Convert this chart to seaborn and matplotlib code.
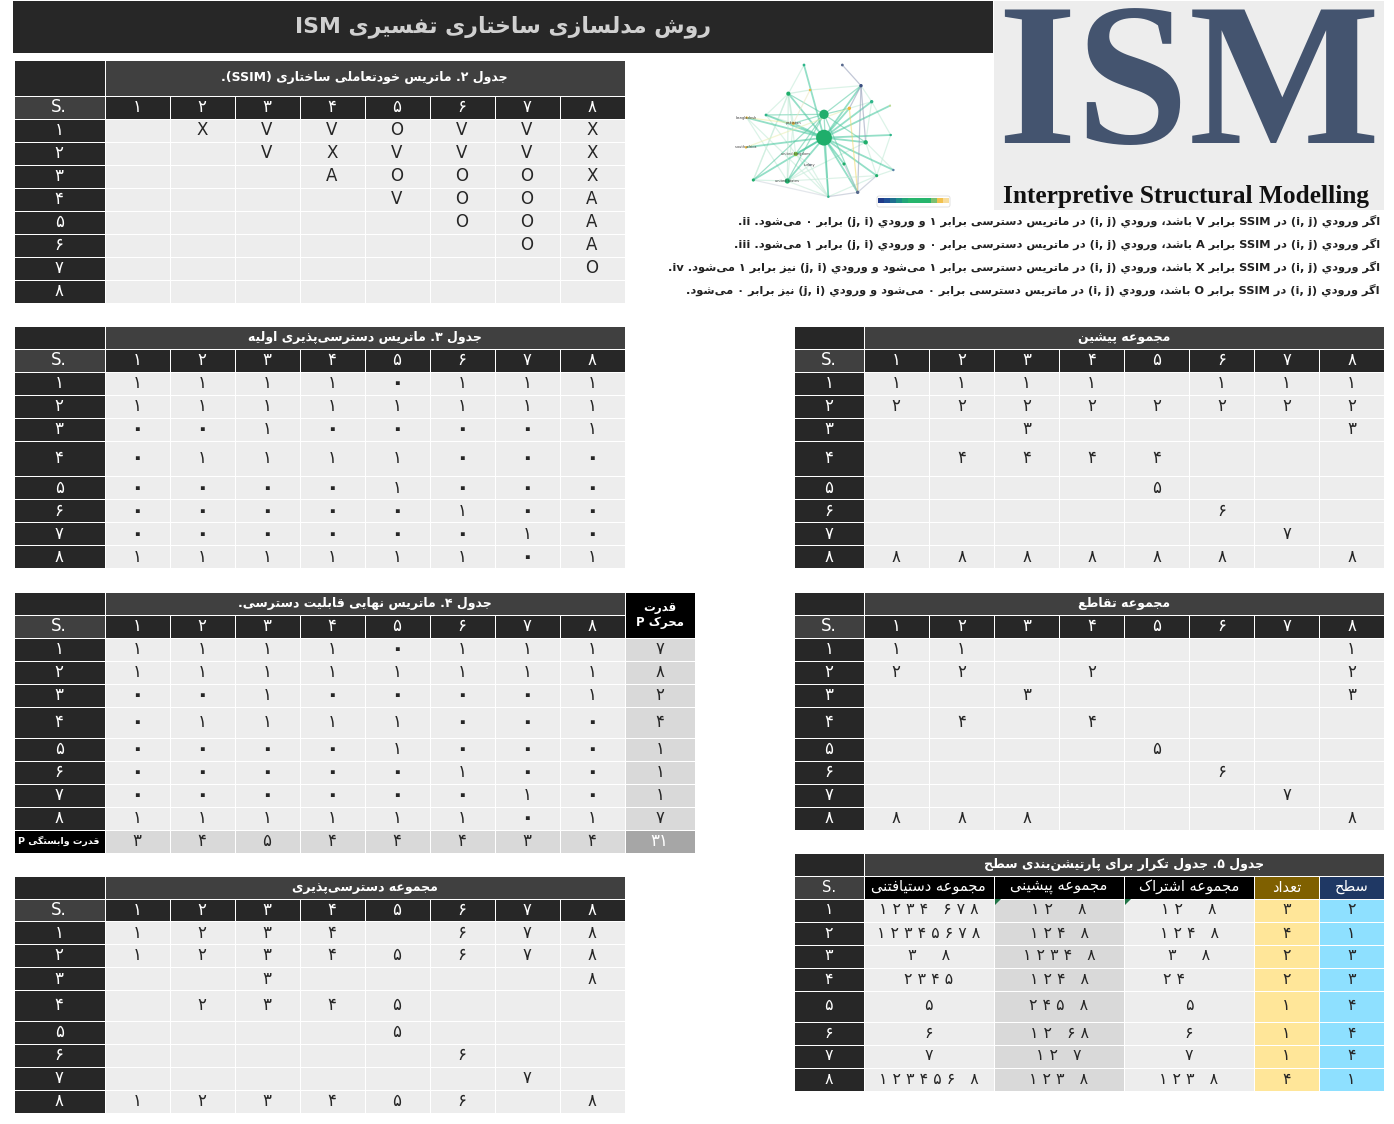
import re
import numpy as np
import matplotlib
matplotlib.use("Agg")
import matplotlib.pyplot as plt
from matplotlib.colors import ListedColormap
from matplotlib.patches import FancyBboxPatch
import seaborn as sns

# ============================================================
# 1. Chart data
# ============================================================
FA_DIGITS = str.maketrans("0123456789.", "۰۱۲۳۴۵۶۷۸۹ ")

column_labels = ["۱", "۲", "۳", "۴", "۵", "۶", "۷", "۸"]
row_labels = ["۱", "۲", "۳", "۴", "۵", "۶", "۷", "۸"]

ssim_rows = [".XVVOVVX", "..VXVVVX", "...AOOOX", "....VOOA",
             ".....OOA", "......OA", ".......O", "........"]
initial_rows = ["11110111", "11111111", "00100001", "01111000",
                "00001000", "00000100", "00000010", "11111101"]
final_rows = ["11110111", "11111111", "00100001", "01111000",
              "00001000", "00000100", "00000010", "11111101"]
reach_rows = ["1234.678", "12345678", "..3....8", ".2345...",
              "....5...", ".....6..", "......7.", "123456.8"]
antecedent_rows = ["1111.111", "22222222", "..3....3", ".4444...",
                   "....5...", ".....6..", "......7.", "888888.8"]
intersection_rows = ["11.....1", "22.2...2", "..3....3", ".4.4....",
                     "....5...", ".....6..", "......7.", "888....8"]

driving_power = ["۷", "۸", "۲", "۴", "۱", "۱", "۱", "۷"]
dependence_power = ["۳", "۴", "۵", "۴", "۴", "۴", "۳", "۴"]
power_total = "۳۱"

level_reach = ["۱ ۲ ۳ ۴   ۶ ۷ ۸", "۱ ۲ ۳ ۴ ۵ ۶ ۷ ۸", "۳     ۸", "۲ ۳ ۴ ۵",
               "۵", "۶", "۷", "۱ ۲ ۳ ۴ ۵ ۶   ۸"]
level_antecedent = ["۱ ۲     ۸", "۱ ۲ ۴   ۸", "۱ ۲ ۳ ۴   ۸", "۱ ۲ ۴   ۸",
                    "۲ ۴ ۵   ۸", "۱ ۲   ۶ ۸", "۱ ۲   ۷", "۱ ۲ ۳   ۸"]
level_shared = ["۱ ۲     ۸", "۱ ۲ ۴   ۸", "۳     ۸", "۲ ۴      ",
                "۵", "۶", "۷", "۱ ۲ ۳   ۸"]
level_count = ["۳", "۴", "۲", "۲", "۱", "۱", "۱", "۴"]
level_value = ["۲", "۱", "۳", "۳", "۴", "۴", "۴", "۱"]

rule_lines = [
    "اگر ورودي (i, j) در SSIM برابر V باشد، ورودي (i, j) در ماتریس دسترسی برابر ۱ و ورودي (j, i) برابر ۰ می‌شود. ii.",
    "اگر ورودي (i, j) در SSIM برابر A باشد، ورودي (i, j) در ماتریس دسترسی برابر ۰ و ورودي (j, i) برابر ۱ می‌شود. iii.",
    "اگر ورودي (i, j) در SSIM برابر X باشد، ورودي (i, j) در ماتریس دسترسی برابر ۱ می‌شود و ورودي (j, i) نیز برابر ۱ می‌شود. iv.",
    "اگر ورودي (i, j) در SSIM برابر O باشد، ورودي (i, j) در ماتریس دسترسی برابر ۰ می‌شود و ورودي (j, i) نیز برابر ۰ می‌شود.",
]

# small network picture next to the logo
node_x = [282, 282, 175, 222, 337, 393, 425, 480, 358, 240, 108, 50, 190,
          482, 407, 48, 197, 240, 342, 490, 440, 172, 70, 295, 383]
node_y = [248, 178, 116, 30, 30, 92, 140, 152, 160, 105, 180, 188, 205,
          240, 262, 277, 297, 330, 327, 345, 362, 378, 375, 425, 412]
node_size = [130, 45, 9, 4, 4, 6, 6, 2, 6, 3, 4, 3, 5,
             3, 10, 3, 10, 3, 5, 3, 5, 14, 5, 3, 6]
node_color = ["#1fae6b", "#1fae6b", "#1fae6b", "#2fb58a", "#56688c", "#3b4f80", "#2fb58a",
              "#c9d98a", "#f0b63c", "#f0b63c", "#2fb58a", "#f0b63c", "#f0b63c", "#2fb58a",
              "#1fae6b", "#f0b63c", "#7fc241", "#a0b0c0", "#1fae6b", "#5d7fa8", "#1fae6b",
              "#1fae6b", "#1fae6b", "#2fb58a", "#56688c"]
edge_from = [0] * 20 + [1] * 11 + [2, 2, 2, 5, 5, 5, 5, 24, 24, 24, 21, 21, 11, 15, 22, 8, 9]
edge_to = [2, 3, 5, 6, 7, 8, 10, 11, 12, 13, 14, 15, 16, 18, 19, 20, 21, 22, 23, 24,
           2, 5, 8, 10, 12, 14, 16, 21, 22, 23, 24,
           9, 12, 21, 4, 8, 14, 24, 18, 20, 23, 20, 23, 12, 8, 23, 24, 12]
edge_color = ["#3cc59a"] * 20 + ["#54c8a0"] * 11 + ["#b6e5cf"] * 3 + ["#8f99b5"] * 4 + \
             ["#aeb6c8"] * 3 + ["#c4e9d6"] * 2 + ["#f1ec9c", "#e9eeb0", "#cdd3dc", "#f0d868", "#e8e6c0"]
faint_from = [2, 2, 2, 10, 10, 11, 11, 22, 22, 16, 16, 21, 21, 6, 6, 13, 14, 14, 20, 20, 17, 3, 9, 8, 5, 12]
faint_to = [10, 16, 22, 12, 16, 21, 23, 2, 21, 23, 17, 17, 14, 14, 13, 20, 20, 19, 19, 23, 23, 2, 5, 6, 6, 21]
node_names = ["bangladesh", "pakistan", "south africa", "united kingdom", "united states", "turkey"]
name_index = [11, 12, 15, 16, 21, 17]
year_swatches = ["#1f3a8a", "#1f4f96", "#1f6f8f", "#1f8f86", "#22a678", "#27b56c",
                 "#27b56c", "#27b56c", "#27b56c", "#7cc070", "#f2c14e", "#f7dc9a"]

# ============================================================
# 2. Persian text helpers (matplotlib has no shaping or bidi)
# ============================================================
FORMS = {
    "ا": (0xFE8D, 0xFE8E), "آ": (0xFE81, 0xFE82), "د": (0xFEA9, 0xFEAA), "ذ": (0xFEAB, 0xFEAC),
    "ر": (0xFEAD, 0xFEAE), "ز": (0xFEAF, 0xFEB0), "ژ": (0xFB8A, 0xFB8B), "و": (0xFEED, 0xFEEE),
    "ب": (0xFE8F, 0xFE90, 0xFE91, 0xFE92), "پ": (0xFB56, 0xFB57, 0xFB58, 0xFB59),
    "ت": (0xFE95, 0xFE96, 0xFE97, 0xFE98), "ج": (0xFE9D, 0xFE9E, 0xFE9F, 0xFEA0),
    "چ": (0xFB7A, 0xFB7B, 0xFB7C, 0xFB7D), "ح": (0xFEA1, 0xFEA2, 0xFEA3, 0xFEA4),
    "خ": (0xFEA5, 0xFEA6, 0xFEA7, 0xFEA8), "س": (0xFEB1, 0xFEB2, 0xFEB3, 0xFEB4),
    "ش": (0xFEB5, 0xFEB6, 0xFEB7, 0xFEB8), "ط": (0xFEC1, 0xFEC2, 0xFEC3, 0xFEC4),
    "ع": (0xFEC9, 0xFECA, 0xFECB, 0xFECC), "ف": (0xFED1, 0xFED2, 0xFED3, 0xFED4),
    "ق": (0xFED5, 0xFED6, 0xFED7, 0xFED8), "ک": (0xFB8E, 0xFB8F, 0xFB90, 0xFB91),
    "گ": (0xFB92, 0xFB93, 0xFB94, 0xFB95), "ل": (0xFEDD, 0xFEDE, 0xFEDF, 0xFEE0),
    "م": (0xFEE1, 0xFEE2, 0xFEE3, 0xFEE4), "ن": (0xFEE5, 0xFEE6, 0xFEE7, 0xFEE8),
    "ه": (0xFEE9, 0xFEEA, 0xFEEB, 0xFEEC), "ی": (0xFBFC, 0xFBFD, 0xFBFE, 0xFBFF),
    "ي": (0xFEF1, 0xFEF2, 0xFEF3, 0xFEF4),
}


def shape(text):
    out = []
    n = len(text)
    for i, ch in enumerate(text):
        if ch not in FORMS:
            if ch != "\u200c":
                out.append(ch)
            continue
        prev = text[i - 1] if i > 0 else ""
        nxt = text[i + 1] if i < n - 1 else ""
        joins_prev = prev in FORMS and len(FORMS[prev]) == 4
        joins_next = nxt in FORMS and len(FORMS[ch]) == 4
        forms = FORMS[ch]
        if joins_prev and joins_next:
            out.append(chr(forms[3]))
        elif joins_next:
            out.append(chr(forms[2]))
        elif joins_prev:
            out.append(chr(forms[1]))
        else:
            out.append(chr(forms[0]))
    return "".join(out)


def fa(text):
    # latin runs stay left to right, everything else gets flipped
    parts = re.split(r"(\(?[A-Za-z]+(?:,\s*[A-Za-z]+)*\)?)", shape(text))
    flip = str.maketrans("()", ")(")
    visual = [p if i % 2 else p[::-1].translate(flip) for i, p in enumerate(parts)]
    return "".join(visual[::-1])


def cells(rows):
    return [[c.translate(FA_DIGITS).strip() for c in r] for r in rows]


# ============================================================
# 3. Layout and colours
# ============================================================
W, H = 1394, 1124
plt.rcParams["font.family"] = ["DejaVu Sans"]

DARK, MID, LIGHT, GREY, TOTAL, BLACK, GOLD_H, GOLD, BLUE_H, BLUE = range(10)
PALETTE = ["#272727", "#404040", "#ededed", "#d9d9d9", "#a6a6a6",
           "#000000", "#7f6000", "#ffe699", "#1f3864", "#8ee0ff"]
cell_cmap = ListedColormap(PALETTE)

LEFT_X = [14, 104.5, 169.5, 234.5, 299.5, 364.5, 429.5, 494.5, 559.5, 624.5]
RIGHT_X = [794, 863.5, 929, 994, 1059, 1124, 1189, 1254, 1319, 1384]
LEVEL_X = [794, 863.5, 994, 1124, 1254, 1319, 1384]

SSIM_Y = [60, 95.5, 118.5, 141.5, 164.5, 187.5, 210.5, 233.5, 256.5, 279.5, 302.5]
INITIAL_Y = [326, 348.5, 371.5, 394.5, 417.5, 440.5, 476, 499, 522, 545, 568]
FINAL_Y = [591.5, 614.5, 637.5, 660.5, 683.5, 706.5, 737.5, 760.5, 783.5, 806.5, 829.5, 852.5]
REACH_Y = [876, 898.5, 921, 944, 967, 990, 1020.5, 1043.5, 1066.5, 1089.5, 1113]
LEVEL_Y = [853, 875.5, 898.5, 921.5, 944.5, 967.5, 990.5, 1021.5, 1044.5, 1067.5, 1090.5]

fig = plt.figure(figsize=(W / 100, H / 100), dpi=100, facecolor="white")


def draw_grid(x_edges, y_edges, codes, labels, size=12, weight="normal", lw=0.55):
    """One block of cells: a heatmap whose row/column widths come from the axis scales."""
    x0, x1, y0, y1 = x_edges[0], x_edges[-1], y_edges[0], y_edges[-1]
    ax = fig.add_axes([x0 / W, 1 - y1 / H, (x1 - x0) / W, (y1 - y0) / H])
    sns.heatmap(np.array(codes), annot=np.array(labels, dtype=object), fmt="", cmap=cell_cmap,
                vmin=-0.5, vmax=len(PALETTE) - 0.5, cbar=False, linewidths=lw, linecolor="white",
                xticklabels=False, yticklabels=False, ax=ax,
                annot_kws={"size": size, "weight": weight})
    nx, ny = len(x_edges) - 1, len(y_edges) - 1
    ix, iy = np.arange(nx + 1), np.arange(ny + 1)
    ax.set_xscale("function", functions=(lambda v: np.interp(v, ix, x_edges),
                                         lambda v: np.interp(v, x_edges, ix)))
    ax.set_yscale("function", functions=(lambda v: np.interp(v, iy, y_edges),
                                         lambda v: np.interp(v, y_edges, iy)))
    ax.set_xlim(0, nx)
    ax.set_ylim(ny, 0)
    ax.set_xticks([])
    ax.set_yticks([])
    ax.minorticks_off()
    # the persian zero is a tiny dot in DejaVu, make it readable
    for t in ax.texts:
        if t.get_text() == "۰":
            t.set_weight("bold")
            t.set_size(size + 4)
    return ax


def matrix_table(x_edges, y_edges, title, rows, size=12):
    # title row
    draw_grid([x_edges[0], x_edges[1], x_edges[-1]], y_edges[:2], [[DARK, MID]],
              [["", fa(title)]], size=9, weight="bold")
    # column header row
    draw_grid(x_edges, y_edges[1:3], [[MID] + [DARK] * 8], [["S."] + column_labels], size=size)
    # body
    body = cells(rows)
    codes = [[DARK] + [LIGHT] * 8 for _ in rows]
    labels = [[row_labels[i]] + body[i] for i in range(len(rows))]
    draw_grid(x_edges, y_edges[2:], codes, labels, size=size)


# ============================================================
# 4. Banner, logo and tables
# ============================================================
banner = draw_grid([13, 993], [1, 53], [[DARK]], [[fa("روش مدلسازی ساختاری تفسیری ISM")]],
                   size=15.8, weight="bold", lw=0)
banner.texts[0].set_color("#d0d0d0")
draw_grid([994, 1384], [1, 210], [[LIGHT]], [[""]], lw=0)

matrix_table(LEFT_X, SSIM_Y, "جدول ۲. ماتریس خودتعاملی ساختاری (SSIM).", ssim_rows)
matrix_table(LEFT_X, INITIAL_Y, "جدول ۳. ماتریس دسترسی‌پذیری اولیه", initial_rows)
matrix_table(LEFT_X, REACH_Y, "مجموعه دسترسی‌پذیری", reach_rows)
matrix_table(RIGHT_X, INITIAL_Y, "مجموعه پیشین", antecedent_rows)
matrix_table(RIGHT_X, FINAL_Y[:-1], "مجموعه تقاطع", intersection_rows)

# table 4 has the extra driving / dependence power cells
draw_grid([LEFT_X[0], LEFT_X[1], LEFT_X[-1]], FINAL_Y[:2], [[DARK, MID]],
          [["", fa("جدول ۴. ماتریس نهایی قابلیت دسترسی.")]], size=9, weight="bold")
draw_grid(LEFT_X, FINAL_Y[1:3], [[MID] + [DARK] * 8], [["S."] + column_labels])
draw_grid([624.5, 695], [FINAL_Y[0], FINAL_Y[2]], [[BLACK]], [[fa("قدرت") + "\n" + fa("محرک P")]],
          size=8.5, weight="bold")
final_body = cells(final_rows)
final_codes = [[DARK] + [LIGHT] * 8 + [GREY] for _ in final_rows] + [[BLACK] + [GREY] * 8 + [TOTAL]]
final_labels = [[row_labels[i]] + final_body[i] + [driving_power[i]] for i in range(8)]
final_labels.append([""] + dependence_power + [power_total])
ax4 = draw_grid(LEFT_X + [695], FINAL_Y[2:], final_codes, final_labels)
ax4.text(0.5, 8.5, fa("قدرت وابستگی P"), color="white", size=6.8, weight="bold", ha="center", va="center")

# table 5, partition levels
draw_grid([LEVEL_X[0], LEVEL_X[1], LEVEL_X[-1]], LEVEL_Y[:2], [[DARK, MID]],
          [["", fa("جدول ۵. جدول تکرار برای پارتیشن‌بندی سطح")]], size=9, weight="bold")
draw_grid(LEVEL_X, LEVEL_Y[1:3], [[MID, BLACK, BLACK, BLACK, GOLD_H, BLUE_H]],
          [["S.", fa("مجموعه دستیافتنی"), fa("مجموعه پیشینی"), fa("مجموعه اشتراک"), fa("تعداد"), fa("سطح")]],
          size=10.5)
level_codes = [[DARK, LIGHT, GREY, LIGHT, GOLD, BLUE] for _ in row_labels]
level_labels = [list(r) for r in zip(row_labels, level_reach, level_antecedent, level_shared, level_count, level_value)]
draw_grid(LEVEL_X, LEVEL_Y[2:], level_codes, level_labels, size=11.4)

# ============================================================
# 5. Free text on a full-figure pixel axes
# ============================================================
px = fig.add_axes([0, 0, 1, 1], facecolor="none")
px.set_xlim(0, W)
px.set_ylim(H, 0)
px.axis("off")

px.text(1189, 94, "ISM", family="Liberation Serif", weight="bold", size=146, color="#44546f",
        ha="center", va="center")
px.text(1186, 197, "Interpretive Structural Modelling", family="Liberation Serif", weight="bold",
        size=18.3, color="#111111", ha="center", va="center")

for i, line in enumerate(rule_lines):
    px.text(1380, 221 + 23 * i, fa(line), size=8.2, weight="bold", color="#222222", ha="right", va="center")

# little green comment markers of the sheet
for xc in (LEVEL_X[2], LEVEL_X[3]):
    px.fill([xc + 1, xc + 7, xc + 1], [899, 899, 905], color="#217346", lw=0)

# legend frame of the network picture
px.add_patch(FancyBboxPatch((877, 196), 73, 11, boxstyle="round,pad=0,rounding_size=2",
                            fc="white", ec="#dddddd", lw=0.6))

# ============================================================
# 6. Network picture
# ============================================================
net = fig.add_axes([730 / W, 1 - 210 / H, 230 / W, 155 / H], facecolor="none")
for a, b in zip(faint_from, faint_to):
    net.plot([node_x[a], node_x[b]], [node_y[a], node_y[b]], color="#cdeede", lw=0.9, alpha=0.7, zorder=1)
for k, (a, b, c) in enumerate(zip(edge_from, edge_to, edge_color)):
    net.plot([node_x[a], node_x[b]], [node_y[a], node_y[b]], color=c, lw=1.3 if k < 20 else 0.9,
             alpha=0.55, zorder=1)
sns.scatterplot(x=node_x, y=node_y, s=node_size, c=node_color, linewidth=0, ax=net, zorder=2, legend=False)
for name, idx in zip(node_names, name_index):
    net.text(node_x[idx], node_y[idx], name, size=2.6, color="#444444", ha="center", va="center", zorder=3)
net.set_xlim(0, 690)
net.set_ylim(465, 0)
net.axis("off")

bar = fig.add_axes([878 / W, 1 - 203 / H, 71 / W, 5 / H])
sns.heatmap(np.arange(len(year_swatches)).reshape(1, -1), cmap=ListedColormap(year_swatches), cbar=False,
            xticklabels=False, yticklabels=False, ax=bar)

fig.savefig("out.png", dpi=100)
